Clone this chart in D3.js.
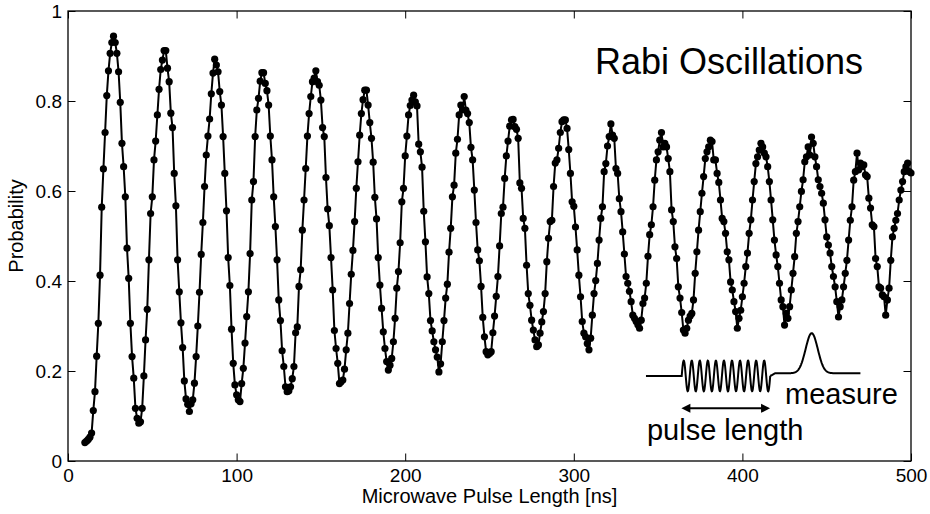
<!DOCTYPE html>
<html><head><meta charset="utf-8">
<script src="https://cdn.jsdelivr.net/npm/d3@7/dist/d3.min.js"></script>
<style>body{margin:0;background:#fff}svg{display:block}</style>
</head><body>
<script>
const pulseLengthNs = [
10,11,12,13,14,15,16,17,18,19,20,21,22,23,24,25,26,27,28,29,
30,31,32,33,34,35,36,37,38,39,40,41,42,43,44,45,46,47,48,49,
50,51,52,53,54,55,56,57,58,59,60,61,62,63,64,65,66,67,68,69,
70,71,72,73,74,75,76,77,78,79,80,81,82,83,84,85,86,87,88,89,
90,91,92,93,94,95,96,97,98,99,100,101,102,103,104,105,106,107,108,109,
110,111,112,113,114,115,116,117,118,119,120,121,122,123,124,125,126,127,128,129,
130,131,132,133,134,135,136,137,138,139,140,141,142,143,144,145,146,147,148,149,
150,151,152,153,154,155,156,157,158,159,160,161,162,163,164,165,166,167,168,169,
170,171,172,173,174,175,176,177,178,179,180,181,182,183,184,185,186,187,188,189,
190,191,192,193,194,195,196,197,198,199,200,201,202,203,204,205,206,207,208,209,
210,211,212,213,214,215,216,217,218,219,220,221,222,223,224,225,226,227,228,229,
230,231,232,233,234,235,236,237,238,239,240,241,242,243,244,245,246,247,248,249,
250,251,252,253,254,255,256,257,258,259,260,261,262,263,264,265,266,267,268,269,
270,271,272,273,274,275,276,277,278,279,280,281,282,283,284,285,286,287,288,289,
290,291,292,293,294,295,296,297,298,299,300,301,302,303,304,305,306,307,308,309,
310,311,312,313,314,315,316,317,318,319,320,321,322,323,324,325,326,327,328,329,
330,331,332,333,334,335,336,337,338,339,340,341,342,343,344,345,346,347,348,349,
350,351,352,353,354,355,356,357,358,359,360,361,362,363,364,365,366,367,368,369,
370,371,372,373,374,375,376,377,378,379,380,381,382,383,384,385,386,387,388,389,
390,391,392,393,394,395,396,397,398,399,400,401,402,403,404,405,406,407,408,409,
410,411,412,413,414,415,416,417,418,419,420,421,422,423,424,425,426,427,428,429,
430,431,432,433,434,435,436,437,438,439,440,441,442,443,444,445,446,447,448,449,
450,451,452,453,454,455,456,457,458,459,460,461,462,463,464,465,466,467,468,469,
470,471,472,473,474,475,476,477,478,479,480,481,482,483,484,485,486,487,488,489,
490,491,492,493,494,495,496,497,498,499,500];

const probability = [
0.041,0.044,0.048,0.053,0.062,0.112,0.154,0.233,0.306,0.413,
0.564,0.649,0.730,0.812,0.867,0.906,0.930,0.944,0.930,0.906,
0.865,0.797,0.706,0.654,0.587,0.473,0.406,0.306,0.232,0.184,
0.117,0.095,0.084,0.087,0.117,0.189,0.269,0.337,0.447,0.550,
0.587,0.669,0.711,0.769,0.826,0.870,0.891,0.912,0.912,0.873,
0.843,0.773,0.741,0.639,0.567,0.447,0.376,0.307,0.252,0.178,
0.138,0.126,0.110,0.127,0.136,0.173,0.232,0.300,0.375,0.459,
0.530,0.610,0.680,0.722,0.760,0.816,0.862,0.893,0.880,0.865,
0.821,0.791,0.721,0.639,0.556,0.452,0.390,0.293,0.217,0.169,
0.147,0.136,0.132,0.172,0.206,0.262,0.321,0.376,0.461,0.580,
0.621,0.721,0.780,0.806,0.844,0.863,0.863,0.839,0.823,0.791,
0.722,0.669,0.587,0.521,0.447,0.358,0.312,0.245,0.210,0.165,
0.154,0.156,0.165,0.183,0.210,0.285,0.298,0.388,0.425,0.513,
0.580,0.650,0.722,0.772,0.810,0.843,0.851,0.867,0.843,0.835,
0.802,0.741,0.721,0.630,0.560,0.523,0.452,0.380,0.290,0.250,
0.217,0.172,0.176,0.180,0.204,0.247,0.284,0.350,0.415,0.468,
0.532,0.606,0.665,0.724,0.772,0.803,0.824,0.824,0.791,0.752,
0.717,0.664,0.586,0.538,0.452,0.391,0.339,0.287,0.250,0.221,
0.202,0.213,0.228,0.265,0.317,0.384,0.421,0.485,0.576,0.606,
0.678,0.722,0.769,0.790,0.802,0.813,0.798,0.789,0.704,0.687,
0.653,0.555,0.487,0.409,0.372,0.312,0.289,0.265,0.247,0.231,
0.198,0.216,0.265,0.312,0.362,0.393,0.464,0.517,0.587,0.613,
0.684,0.715,0.769,0.791,0.780,0.810,0.780,0.772,0.752,0.697,
0.669,0.602,0.530,0.469,0.445,0.388,0.319,0.276,0.243,0.236,
0.239,0.243,0.285,0.322,0.366,0.410,0.478,0.550,0.564,0.628,
0.678,0.711,0.744,0.758,0.759,0.743,0.737,0.717,0.618,0.606,
0.539,0.517,0.435,0.372,0.346,0.313,0.291,0.269,0.254,0.258,
0.284,0.309,0.332,0.372,0.443,0.495,0.532,0.535,0.610,0.662,
0.669,0.695,0.730,0.754,0.758,0.758,0.739,0.692,0.639,0.576,
0.566,0.520,0.469,0.413,0.365,0.310,0.284,0.276,0.261,0.247,
0.273,0.324,0.372,0.401,0.439,0.491,0.539,0.565,0.643,0.661,
0.700,0.721,0.749,0.724,0.717,0.650,0.639,0.583,0.554,0.509,
0.460,0.410,0.395,0.377,0.354,0.324,0.317,0.310,0.303,0.295,
0.313,0.350,0.362,0.395,0.455,0.503,0.525,0.565,0.624,0.669,
0.687,0.713,0.730,0.698,0.706,0.698,0.672,0.643,0.558,0.532,
0.476,0.450,0.387,0.362,0.330,0.291,0.284,0.295,0.313,0.322,
0.328,0.358,0.417,0.465,0.513,0.554,0.595,0.632,0.672,0.687,
0.698,0.713,0.710,0.669,0.669,0.639,0.619,0.580,0.539,0.532,
0.506,0.465,0.447,0.398,0.380,0.354,0.332,0.295,0.317,0.335,
0.365,0.395,0.432,0.462,0.506,0.536,0.580,0.621,0.661,0.676,
0.691,0.706,0.698,0.684,0.676,0.654,0.621,0.580,0.536,0.491,
0.458,0.432,0.395,0.358,0.343,0.302,0.328,0.317,0.343,0.380,
0.417,0.454,0.506,0.532,0.565,0.599,0.625,0.665,0.676,0.698,
0.680,0.720,0.706,0.676,0.654,0.625,0.610,0.595,0.573,0.536,
0.498,0.480,0.462,0.432,0.410,0.387,0.354,0.320,0.343,0.358,
0.387,0.417,0.446,0.491,0.535,0.565,0.624,0.643,0.684,0.647,
0.662,0.654,0.658,0.636,0.632,0.584,0.562,0.525,0.521,0.450,
0.432,0.387,0.384,0.369,0.365,0.324,0.358,0.384,0.446,0.498,
0.517,0.535,0.550,0.580,0.602,0.621,0.643,0.654,0.662,0.643,
0.640];

const xTickValues = [0, 100, 200, 300, 400, 500];
const xTickLabels = ["0", "100", "200", "300", "400", "500"];
const yTickValues = [0, 0.2, 0.4, 0.6, 0.8, 1];
const yTickLabels = ["0", "0.2", "0.4", "0.6", "0.8", "1"];
const xAxisTitle = "Microwave Pulse Length [ns]";
const yAxisTitle = "Probability";
const chartTitle = "Rabi Oscillations";
const insetPulseLabel = "pulse length";
const insetMeasureLabel = "measure";

const W = 930, H = 514;
const FONT = "'Liberation Sans', Arial, Helvetica, sans-serif";
const plot = {x0: 68, x1: 911, y0: 461, y1: 11};

const svg = d3.select("body").append("svg").attr("width", W).attr("height", H)
  .style("font-family", FONT);
svg.append("rect").attr("width", W).attr("height", H).attr("fill", "#fff");

const x = d3.scaleLinear().domain([0, 500]).range([plot.x0, plot.x1]);
const y = d3.scaleLinear().domain([0, 1]).range([plot.y0, plot.y1]);

const TICK = 7.5;
function styleAxis(g) {
  g.select(".domain").remove();
  g.selectAll(".tick line").attr("stroke", "#000").attr("stroke-width", 1);
  g.selectAll(".tick text").attr("fill", "#000").style("font-family", FONT).style("font-size", "19px");
}
svg.append("g").attr("transform", `translate(0,${plot.y0})`)
  .call(d3.axisBottom(x).tickValues(xTickValues).tickFormat((d, i) => xTickLabels[i])
    .tickSizeInner(-TICK).tickSizeOuter(0).tickPadding(8))
  .call(styleAxis);
svg.append("g").attr("transform", `translate(0,${plot.y1})`)
  .call(d3.axisTop(x).tickValues(xTickValues).tickFormat(() => "")
    .tickSizeInner(-TICK).tickSizeOuter(0))
  .call(styleAxis);
svg.append("g").attr("transform", `translate(${plot.x0},0)`)
  .call(d3.axisLeft(y).tickValues(yTickValues).tickFormat((d, i) => yTickLabels[i])
    .tickSizeInner(-TICK).tickSizeOuter(0).tickPadding(6))
  .call(styleAxis);
svg.append("g").attr("transform", `translate(${plot.x1},0)`)
  .call(d3.axisRight(y).tickValues(yTickValues).tickFormat(() => "")
    .tickSizeInner(-TICK).tickSizeOuter(0))
  .call(styleAxis);

svg.append("rect")
  .attr("x", plot.x0).attr("y", plot.y1)
  .attr("width", plot.x1 - plot.x0).attr("height", plot.y0 - plot.y1)
  .attr("fill", "none").attr("stroke", "#000").attr("stroke-width", 1.3);

svg.append("text").attr("x", (plot.x0 + plot.x1) / 2).attr("y", 503)
  .attr("text-anchor", "middle").style("font-size", "20px").text(xAxisTitle);
svg.append("text").attr("transform", `translate(23,226) rotate(-90)`)
  .attr("text-anchor", "middle").style("font-size", "20px").text(yAxisTitle);

const pts = pulseLengthNs.map((t, i) => [t, probability[i]]);
svg.append("path").datum(pts)
  .attr("fill", "none").attr("stroke", "#000").attr("stroke-width", 2)
  .attr("stroke-linejoin", "round")
  .attr("d", d3.line().x(d => x(d[0])).y(d => y(d[1])));
svg.append("g").selectAll("circle").data(pts).join("circle")
  .attr("cx", d => x(d[0])).attr("cy", d => y(d[1])).attr("r", 3.6).attr("fill", "#000");

svg.append("text").attr("x", 595).attr("y", 74).style("font-size", "36px").text(chartTitle);

const ins = svg.append("g").attr("fill", "none").attr("stroke", "#000").attr("stroke-width", 2);
const lineXY = d3.line().x(d => x(d[0])).y(d => y(d[1]));
const leadStart = 342.8, waveStart = 364.0, waveEnd = 416.5, tailEnd = 470.0;
const waveMid = 0.189, waveAmp = 0.034, cycles = 11;
const tailBase = 0.195, peakT = 441.1, peakH = 0.089, sigma = 3.6;
const pulse = [[leadStart, waveMid], [waveStart, waveMid]];
const nW = 400;
for (let i = 0; i <= nW; i++) {
  const f = i / nW;
  const t = waveStart + f * (waveEnd - waveStart);
  pulse.push([t, waveMid + waveAmp * Math.sin(2 * Math.PI * cycles * f)]);
}
ins.append("path").attr("d", lineXY(pulse));
const meas = [];
for (let t = waveEnd; t <= tailEnd + 0.001; t += 0.25) {
  const base = waveMid + (tailBase - waveMid) * Math.min(1, (t - waveEnd) / 3);
  meas.push([t, base + peakH * Math.exp(-((t - peakT) ** 2) / (2 * sigma * sigma))]);
}
ins.append("path").attr("d", lineXY(meas));

const ay = y(0.117), ax0 = x(363.8), ax1 = x(416.4);
svg.append("line").attr("x1", ax0 + 6).attr("x2", ax1 - 6).attr("y1", ay).attr("y2", ay)
  .attr("stroke", "#000").attr("stroke-width", 2);
svg.append("path").attr("d", `M${ax0},${ay} l9,-4.5 l0,9 Z`).attr("fill", "#000");
svg.append("path").attr("d", `M${ax1},${ay} l-9,-4.5 l0,9 Z`).attr("fill", "#000");

svg.append("text").attr("x", x(425.3)).attr("y", y(0.127)).style("font-size", "29px").text(insetMeasureLabel);
svg.append("text").attr("x", x(343.4)).attr("y", y(0.047)).style("font-size", "29px").text(insetPulseLabel);
</script>
</body></html>
